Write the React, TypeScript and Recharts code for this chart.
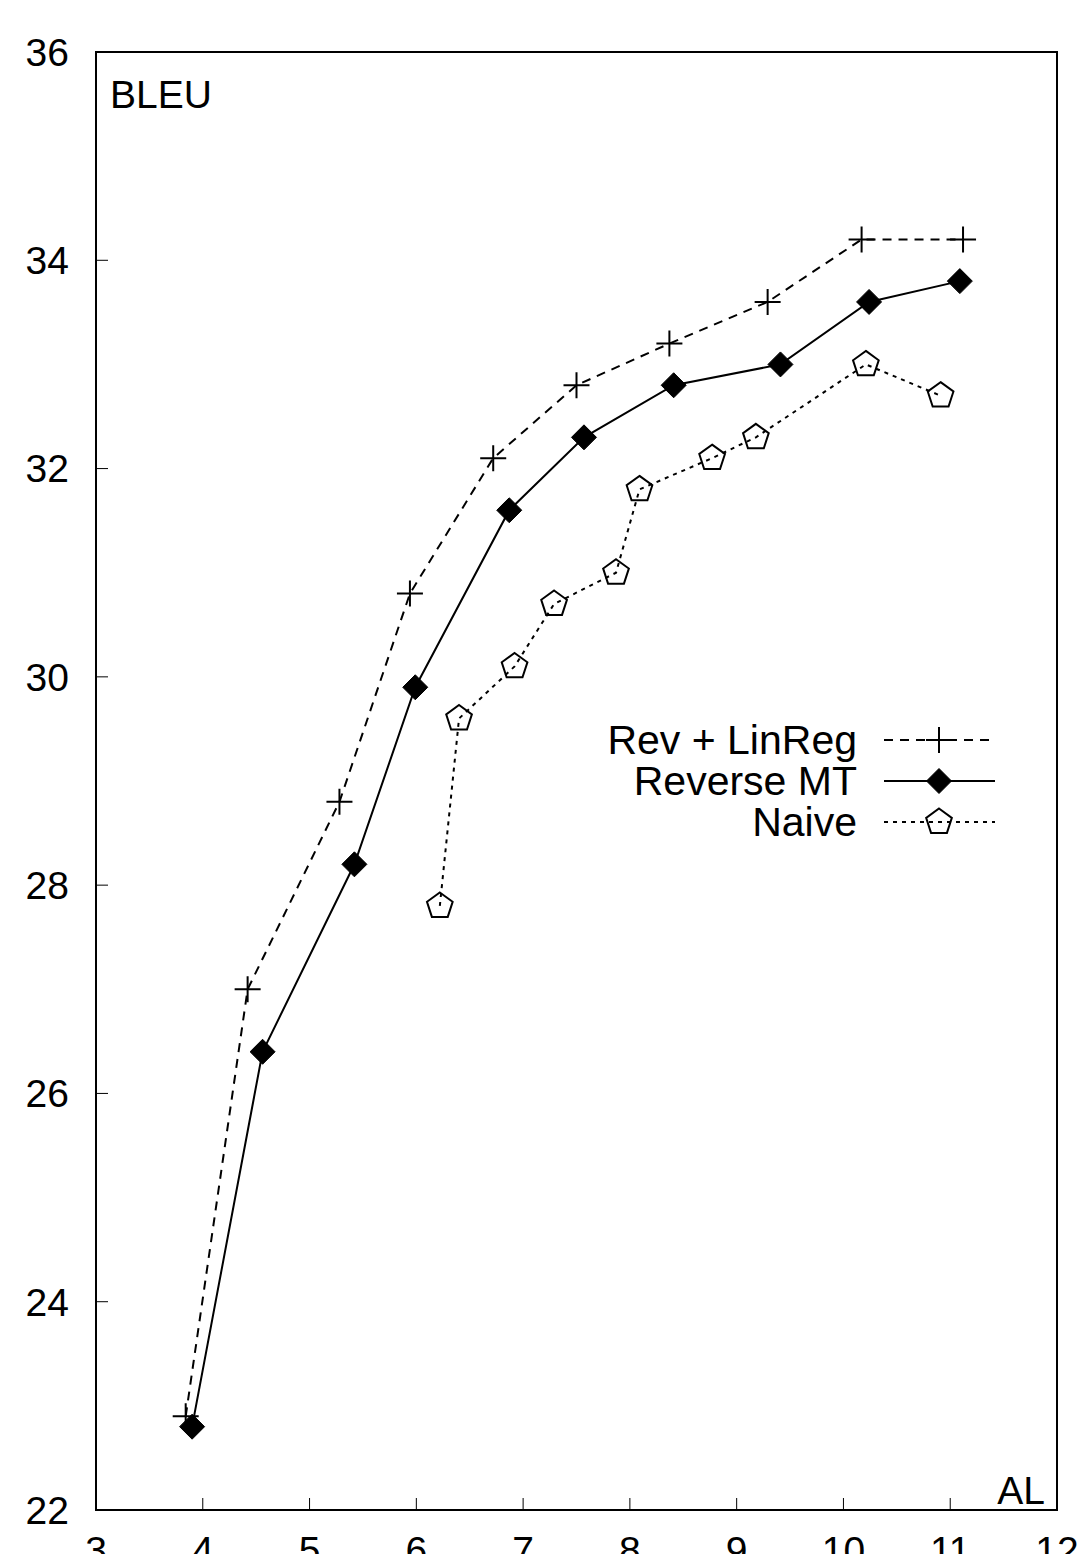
import React from 'react';
import { LineChart, Line, XAxis, YAxis, ReferenceArea } from 'recharts';

const revX = [3.84, 4.42, 5.28, 5.94, 6.72, 7.5, 8.37, 9.29, 10.17, 11.12];
const revY = [22.9, 27.0, 28.8, 30.8, 32.1, 32.8, 33.2, 33.6, 34.2, 34.2];
const mtX = [3.9, 4.56, 5.42, 5.99, 6.87, 7.57, 8.41, 9.41, 10.24, 11.09];
const mtY = [22.8, 26.4, 28.2, 29.9, 31.6, 32.3, 32.8, 33.0, 33.6, 33.8];
const naiveX = [6.22, 6.4, 6.92, 7.29, 7.87, 8.09, 8.77, 9.18, 10.21, 10.91];
const naiveY = [27.8, 29.6, 30.1, 30.7, 31.0, 31.8, 32.1, 32.3, 33.0, 32.7];

const xTicks = [3, 4, 5, 6, 7, 8, 9, 10, 11, 12];
const yTicks = [22, 24, 26, 28, 30, 32, 34, 36];
const seriesNames = ['Rev + LinReg', 'Reverse MT', 'Naive'];

const toRows = (xs: number[], ys: number[]) => xs.map((x, i) => ({ x, y: ys[i] }));
const revData = toRows(revX, revY);
const mtData = toRows(mtX, mtY);
const naiveData = toRows(naiveX, naiveY);

const FONT = '"Liberation Sans", Arial, Helvetica, sans-serif';
const FS = 39;

const PlusMark = ({ cx, cy }: { cx: number; cy: number }) => (
  <path d={`M${cx - 13},${cy}H${cx + 13}M${cx},${cy - 13}V${cy + 13}`} stroke="#000" strokeWidth={2} fill="none" />
);
const DiamondMark = ({ cx, cy }: { cx: number; cy: number }) => (
  <path d={`M${cx},${cy - 12.5}L${cx + 12.5},${cy}L${cx},${cy + 12.5}L${cx - 12.5},${cy}Z`} fill="#000" stroke="#000" strokeWidth={1} />
);
const pentPath = (cx: number, cy: number, r: number) => {
  const pts: string[] = [];
  for (let k = 0; k < 5; k++) {
    const a = -Math.PI / 2 + (k * 2 * Math.PI) / 5;
    pts.push(`${(cx + r * Math.cos(a)).toFixed(2)},${(cy + r * Math.sin(a)).toFixed(2)}`);
  }
  return `M${pts.join('L')}Z`;
};
const PentMark = ({ cx, cy }: { cx: number; cy: number }) => (
  <path d={pentPath(cx, cy, 13.5)} fill="none" stroke="#000" strokeWidth={2} strokeLinejoin="miter" />
);

const noLabel = () => '';

export default function App() {
  return (
    <div style={{ position: 'absolute', left: 0, top: 0, width: 1088, height: 1554, background: '#fff' }}>
      <LineChart
        width={1088}
        height={1554}
        margin={{ top: 52, right: 31, bottom: 0, left: 0 }}
        style={{ fontFamily: FONT }}
      >
        <XAxis
          xAxisId={0}
          type="number"
          dataKey="x"
          domain={[3, 12]}
          ticks={xTicks}
          allowDataOverflow
          height={44}
          axisLine={false}
          tickSize={-12}
          tickMargin={38}
          tickLine={{ stroke: '#000', strokeWidth: 1 }}
          tick={{ fill: '#000', fontSize: FS, fontFamily: FONT }}
        />
        <XAxis
          xAxisId="top"
          orientation="top"
          type="number"
          dataKey="x"
          domain={[3, 12]}
          ticks={xTicks}
          allowDataOverflow
          height={0}
          axisLine={false}
          tickSize={-12}
          tickFormatter={noLabel}
          tickLine={{ stroke: '#000', strokeWidth: 1 }}
        />
        <YAxis
          yAxisId={0}
          type="number"
          dataKey="y"
          domain={[22, 36]}
          ticks={yTicks}
          allowDataOverflow
          width={96}
          axisLine={false}
          tickSize={-12}
          tickMargin={39}
          tickLine={{ stroke: '#000', strokeWidth: 1 }}
          tick={{ fill: '#000', fontSize: FS, fontFamily: FONT }}
        />
        <YAxis
          yAxisId="right"
          orientation="right"
          type="number"
          dataKey="y"
          domain={[22, 36]}
          ticks={yTicks}
          allowDataOverflow
          width={0}
          axisLine={false}
          tickSize={-12}
          tickFormatter={noLabel}
          tickLine={{ stroke: '#000', strokeWidth: 1 }}
        />
        <ReferenceArea x1={3} x2={12} y1={22} y2={36} fill="none" stroke="#000" strokeWidth={2} fillOpacity={0} />
        <Line
          data={revData}
          dataKey="y"
          name={seriesNames[0]}
          type="linear"
          stroke="#000"
          strokeWidth={2}
          strokeDasharray="9 7"
          isAnimationActive={false}
          dot={(p: any) => <PlusMark key={`rev-${p.index}`} cx={p.cx} cy={p.cy} />}
        />
        <Line
          data={mtData}
          dataKey="y"
          name={seriesNames[1]}
          type="linear"
          stroke="#000"
          strokeWidth={2}
          isAnimationActive={false}
          dot={(p: any) => <DiamondMark key={`mt-${p.index}`} cx={p.cx} cy={p.cy} />}
        />
        <Line
          data={naiveData}
          dataKey="y"
          name={seriesNames[2]}
          type="linear"
          stroke="#000"
          strokeWidth={2}
          strokeDasharray="4 5"
          isAnimationActive={false}
          dot={(p: any) => <PentMark key={`nv-${p.index}`} cx={p.cx} cy={p.cy} />}
        />
      </LineChart>
      <svg
        width={1088}
        height={1554}
        style={{ position: 'absolute', left: 0, top: 0, pointerEvents: 'none' }}
      >
        <text x={110} y={108} fontFamily={FONT} fontSize={FS} fill="#000">BLEU</text>
        <text x={1045} y={1504} fontFamily={FONT} fontSize={FS} fill="#000" textAnchor="end">AL</text>
        <g fontFamily={FONT} fontSize={41} fill="#000">
          <text x={857} y={754} textAnchor="end">{seriesNames[0]}</text>
          <line x1={884} x2={995} y1={740} y2={740} stroke="#000" strokeWidth={2} strokeDasharray="9 7" />
          <PlusMark cx={939} cy={740} />
          <text x={857} y={795} textAnchor="end">{seriesNames[1]}</text>
          <line x1={884} x2={995} y1={781} y2={781} stroke="#000" strokeWidth={2} />
          <DiamondMark cx={939} cy={781} />
          <text x={857} y={836} textAnchor="end">{seriesNames[2]}</text>
          <line x1={884} x2={995} y1={822} y2={822} stroke="#000" strokeWidth={2} strokeDasharray="4 5" />
          <PentMark cx={939} cy={822} />
        </g>
      </svg>
    </div>
  );
}
